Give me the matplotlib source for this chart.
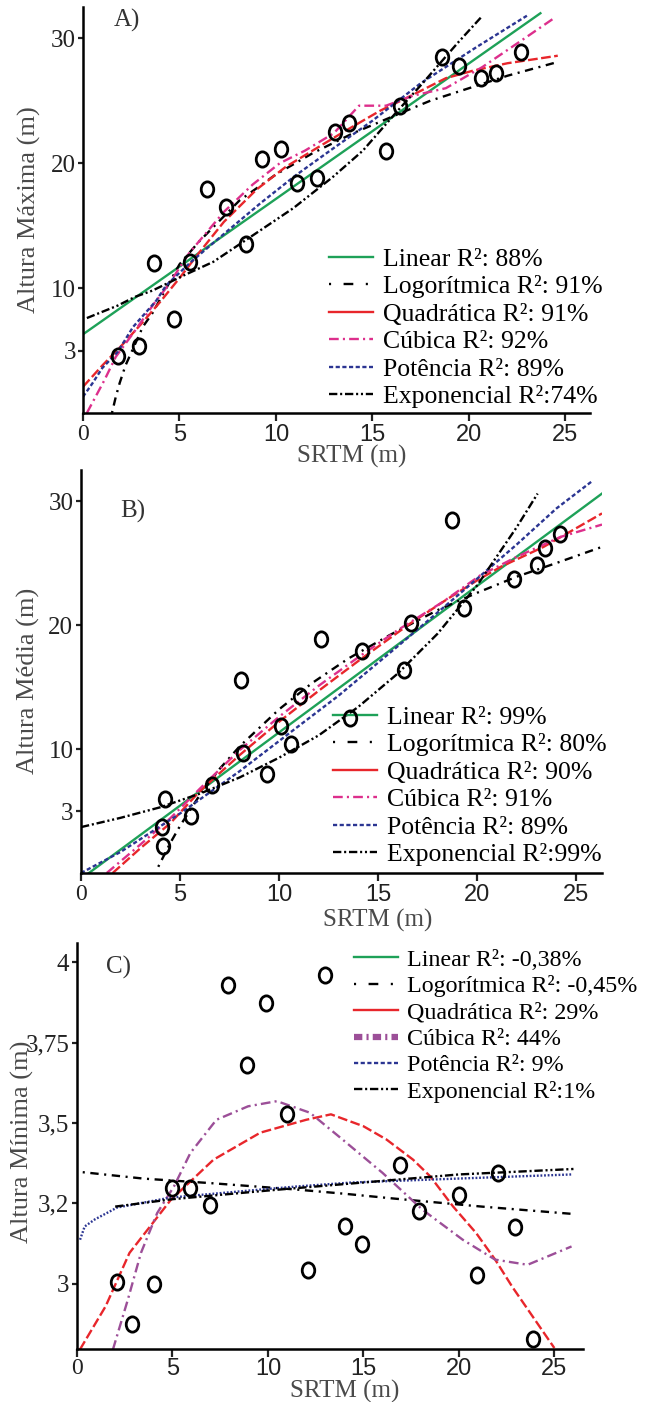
import matplotlib
matplotlib.use("Agg")
import matplotlib.pyplot as plt
from matplotlib.lines import Line2D
from matplotlib.path import Path
from matplotlib.transforms import Affine2D

plt.rcParams["font.family"] = ["Liberation Serif", "DejaVu Serif"]
plt.rcParams["lines.scale_dashes"] = False

# ---------------- data ----------------
# A) Altura Maxima
xa = [1.8, 2.9, 3.7, 4.7, 5.55, 6.45, 7.4, 8.45, 9.3, 10.25, 11.1, 12.15, 13.05, 13.8, 15.7, 16.4, 18.6, 19.5, 20.6, 21.4, 22.7]
ya = [4.6, 5.4, 12.0, 7.5, 12.1, 17.9, 16.5, 13.5, 20.3, 21.1, 18.4, 18.8, 22.5, 23.2, 21.0, 24.6, 28.5, 27.8, 26.8, 27.2, 28.9]
lin_a_x = [0, 23.7]
lin_a_y = [6.3, 32.0]
log_a_x = [1.5, 1.7, 1.9, 2.2, 3.1, 3.6, 5.0, 6.0, 8.1, 10.0, 11.9, 14.0, 16.6, 18.0, 20.0, 22.0, 24.6]
log_a_y = [0.0, 1.3, 2.4, 3.8, 6.9, 8.0, 11.9, 13.7, 17.0, 19.1, 20.8, 22.4, 24.1, 25.0, 26.0, 27.0, 28.1]
quad_a_x = [0, 1, 2, 3, 4, 5, 6, 7.3, 9, 10.5, 12, 13.5, 15.4, 17, 18.8, 20.2, 22, 24.6]
quad_a_y = [2.1, 3.8, 5.4, 7.1, 8.9, 10.8, 12.8, 15.3, 17.9, 19.7, 21.1, 22.5, 24.2, 25.4, 26.8, 27.4, 28.0, 28.6]
cub_a_x = [0.2, 1.1, 1.7, 2.7, 3.7, 4.4, 5.5, 7.3, 8.8, 10.2, 11.5, 13.0, 14.3, 15.7, 17.1, 18.8, 20.7, 22.7, 24.4]
cub_a_y = [0.0, 2.6, 4.5, 6.6, 8.8, 10.2, 12.8, 16.1, 18.3, 20.0, 21.0, 22.4, 24.6, 24.6, 25.4, 26.0, 27.7, 29.8, 31.6]
pow_a_x = [0, 0.5, 1.0, 1.8, 2.6, 3.8, 4.3, 5.6, 7.2, 9.2, 11.0, 12.8, 15.0, 17.5, 20.4, 23.0]
pow_a_y = [1.3, 2.4, 3.6, 4.9, 6.9, 9.0, 10.2, 12.1, 14.2, 16.8, 19.0, 21.0, 23.4, 26.4, 29.3, 31.8]
exp_a_x = [0.2, 1.8, 2.7, 3.6, 5.2, 6.75, 8.3, 10.9, 12.95, 14.5, 16.25, 17.6, 19.4, 20.7]
exp_a_y = [7.6, 8.6, 9.3, 9.8, 11.0, 12.1, 13.7, 16.4, 18.9, 21.0, 24.1, 26.4, 29.6, 31.8]
labels_a = ["Linear R²: 88%", "Logorítmica R²: 91%", "Quadrática R²: 91%",
            "Cúbica R²: 92%", "Potência R²: 89%", "Exponencial R²:74%"]

# B) Altura Media
xb = [4.25, 4.1, 4.15, 5.55, 6.6, 8.1, 8.2, 9.4, 10.1, 10.6, 11.05, 12.1, 13.6, 14.2, 16.3, 16.65, 18.75, 19.35, 21.85, 23.0, 23.4, 24.2]
yb = [6.0, 3.7, 2.2, 4.6, 7.1, 15.6, 9.7, 8.0, 11.85, 10.4, 14.3, 18.9, 12.5, 17.9, 16.4, 20.2, 28.5, 21.4, 23.7, 24.8, 26.2, 27.3]
lin_b_x = [0.4, 26.3]
lin_b_y = [0.0, 30.6]
log_b_x = [3.9, 4.5, 5.0, 6.0, 7.0, 8.0, 10.0, 11.65, 13.5, 15.6, 18.0, 20.0, 22.0, 24.0, 26.3]
log_b_y = [0.5, 2.4, 3.8, 6.3, 8.4, 10.2, 13.2, 15.3, 17.3, 19.2, 21.2, 22.6, 23.9, 25.0, 26.3]
quad_b_x = [1.6, 3, 4.5, 6, 8, 10, 12, 14, 16.6, 18.5, 20, 21.2, 23.35, 26.3]
quad_b_y = [0.0, 2.0, 4.0, 6.6, 9.5, 12.2, 14.7, 17.1, 20.1, 22.1, 23.6, 24.7, 26.3, 29.0]
cub_b_x = [1.3, 3, 4.5, 6, 8, 10, 12, 14, 16, 18.3, 20.15, 22, 24.2, 26.3]
cub_b_y = [0.0, 2.3, 4.4, 6.8, 9.9, 12.6, 15.1, 17.4, 19.6, 21.9, 24.0, 25.5, 27.1, 28.1]
pow_b_x = [0, 2, 5, 8, 10.7, 13, 16, 19.1, 22, 24, 25.8]
pow_b_y = [0.0, 1.7, 4.8, 8.2, 11.5, 14.3, 18.3, 22.5, 26.5, 29.4, 31.6]
exp_b_x = [0, 2, 4, 6, 8, 10, 12, 14, 16, 18, 20, 22, 23.05]
exp_b_y = [3.7, 4.45, 5.3, 6.4, 7.7, 9.3, 11.1, 13.4, 16.1, 19.3, 23.2, 27.9, 30.6]
labels_b = ["Linear R²: 99%", "Logorítmica R²: 80%", "Quadrática R²: 90%",
            "Cúbica R²: 91%", "Potência R²: 89%", "Exponencial R²:99%"]

# C) Altura Minima
xc = [2.1, 2.9, 4.05, 5.0, 5.9, 6.95, 7.9, 8.9, 9.9, 11.0, 12.1, 13.0, 14.05, 14.9, 16.9, 17.9, 20.0, 20.95, 22.05, 22.95, 23.9]
yc = [3.005, 2.875, 3.0, 3.297, 3.297, 3.246, 3.928, 3.679, 3.873, 3.528, 3.043, 3.962, 3.18, 3.124, 3.368, 3.227, 3.277, 3.028, 3.345, 3.177, 2.828]
log_c_x = [0.3, 3.5, 7.0, 11.5, 14.0, 16.6, 21.2, 26.0]
log_c_y = [3.347, 3.327, 3.313, 3.293, 3.28, 3.265, 3.24, 3.217]
quad_c_x = [0.15, 1.5, 2.75, 4.9, 7.15, 9.6, 12.0, 13.3, 15.0, 16.2, 17.6, 18.5, 19.7, 20.9, 21.9, 22.8, 25.0]
quad_c_y = [2.795, 2.93, 3.096, 3.26, 3.386, 3.47, 3.51, 3.527, 3.49, 3.449, 3.386, 3.334, 3.24, 3.158, 3.075, 2.99, 2.80]
cub_c_x = [1.88, 2.66, 3.35, 4.2, 5.08, 5.94, 7.3, 8.96, 10.47, 12.2, 13.9, 16.0, 18.1, 20.2, 21.9, 23.6, 25.9]
cub_c_y = [2.795, 2.95, 3.096, 3.22, 3.303, 3.407, 3.51, 3.552, 3.568, 3.532, 3.449, 3.345, 3.23, 3.137, 3.075, 3.059, 3.116]
pow_c_x = [0.16, 0.4, 0.93, 2.1, 4.9, 9.6, 11.6, 14.4, 18.5, 25.9]
pow_c_y = [3.137, 3.178, 3.2, 3.237, 3.268, 3.293, 3.303, 3.315, 3.324, 3.34]
exp_c_x = [2.0, 5.0, 10.0, 15.0, 20.0, 26.0]
exp_c_y = [3.24, 3.263, 3.29, 3.315, 3.34, 3.357]
labels_c = ["Linear R²: -0,38%", "Logorítmica R²: -0,45%", "Quadrática R²: 29%",
            "Cúbica R²: 44%", "Potência R²: 9%", "Exponencial R²:1%"]

xticks = [0, 5, 10, 15, 20, 25]
yticks_ab = [5, 10, 20, 30]
ylabels_ab = ["3", "10", "20", "30"]
yticks_c = [3, 3.25, 3.5, 3.75, 4]
ylabels_c = ["3", "3,2", "3,5", "3,75", "4"]

# ---------------- styles ----------------
GREEN = "#1ea158"
RED = "#e8262b"
PINK = "#dd2f8c"
PURPLE = "#9c4f98"
BLUE = "#2b3592"
LOG_LS = (0, (1.5, 4, 6, 4))
QUAD_LS = (0, (7, 2.5))
CUB_LS = (0, (7, 3, 1.5, 3))
POW_LS = (0, (3, 1.8))
DOT_LS = (0, (1.3, 1.3))
EXP_LS = (0, (6, 2, 1.5, 2, 6, 2, 1.5, 2, 1.5, 2))
LW = 1.7

ellipse = Path.unit_circle().transformed(Affine2D().scale(0.82, 1.0))

fig = plt.figure(figsize=(6.47, 14.02), dpi=100)


def style_axes(ax, xmax, ylim, yt, ytl, ylabel, label_xy, ylab_xy, xlab_xy, letter, ypad, xpad):
    ax.set_xlim(0, xmax)
    ax.set_ylim(*ylim)
    for s in ["top", "right"]:
        ax.spines[s].set_visible(False)
    for s in ["left", "bottom"]:
        ax.spines[s].set_linewidth(1.8)
    ax.set_xticks(xticks)
    ax.set_xticklabels([str(t) for t in xticks])
    ax.set_yticks(yt)
    ax.set_yticklabels(ytl)
    ax.tick_params(axis="both", width=1.6, direction="out", colors="#222222")
    ax.tick_params(axis="y", labelsize=18, length=3.5, pad=ypad)
    ax.tick_params(axis="x", labelsize=17, length=6, pad=xpad)
    for i, t in enumerate(ax.get_xticklabels()):
        if i == 0:
            t.set_fontfamily(["Liberation Serif"])
        else:
            t.set_fontfamily(["Liberation Sans"])
    ax.set_ylabel(ylabel, fontsize=19, color="#4a4a4a")
    ax.yaxis.set_label_coords(*ylab_xy)
    ax.yaxis.label.set_verticalalignment("center")
    ax.set_xlabel("SRTM (m)", fontsize=18, color="#4a4a4a")
    ax.xaxis.set_label_coords(*xlab_xy)
    ax.xaxis.label.set_verticalalignment("center")
    ax.text(label_xy[0], label_xy[1], letter, transform=ax.transAxes,
            fontsize=18, color="#333333", ha="center", va="center")


def make_handles(cub_color, cub_lw, cub_ls):
    return [
        Line2D([], [], color=GREEN, lw=LW),
        Line2D([], [], color="black", lw=LW, ls=(0, (1.5, 9, 7, 9))),
        Line2D([], [], color=RED, lw=LW),
        Line2D([], [], color=cub_color, lw=cub_lw, ls=cub_ls),
        Line2D([], [], color=BLUE, lw=LW, ls=POW_LS),
        Line2D([], [], color="black", lw=LW, ls=EXP_LS),
    ]


def add_legend(ax, handles, labels, x_px, top_px, size):
    ax.legend(handles, labels, loc="upper left",
              bbox_to_anchor=(x_px / 647, 1 - top_px / 1402),
              bbox_transform=fig.transFigure, frameon=False,
              borderpad=0, borderaxespad=0, handlelength=1.75 * 18 / size,
              handletextpad=0.4, labelspacing=0.18 * 18 / size,
              prop={"family": "Liberation Serif", "size": size})


def scatter(ax, x, y):
    ax.plot(x, y, ls="none", marker=ellipse, ms=11, mfc="none",
            mec="black", mew=2.0, zorder=6)


# ---------------- panel A ----------------
ax1 = fig.add_axes([83 / 647, 1 - 413 / 1402, 507 / 647, 406 / 1402])
ax1.plot(lin_a_x, lin_a_y, color=GREEN, lw=LW)
ax1.plot(log_a_x, log_a_y, color="black", lw=LW, ls=LOG_LS)
ax1.plot(quad_a_x, quad_a_y, color=RED, lw=LW, ls=QUAD_LS)
ax1.plot(cub_a_x, cub_a_y, color=PINK, lw=LW, ls=CUB_LS)
ax1.plot(pow_a_x, pow_a_y, color=BLUE, lw=LW, ls=POW_LS)
ax1.plot(exp_a_x, exp_a_y, color="black", lw=LW, ls=EXP_LS)
scatter(ax1, xa, ya)
style_axes(ax1, 26.27, (0, 32.5), yticks_ab, ylabels_ab, "Altura Máxima (m)",
           (0.087, 0.968), (-0.105, 0.50), (0.53, -0.108), "A)", 1.5, 2)
add_legend(ax1, make_handles(PINK, LW, CUB_LS), labels_a, 329, 248, 18.5)

# ---------------- panel B ----------------
ax2 = fig.add_axes([81 / 647, 1 - 873 / 1402, 521 / 647, 403 / 1402])
ax2.plot(lin_b_x, lin_b_y, color=GREEN, lw=LW)
ax2.plot(log_b_x, log_b_y, color="black", lw=LW, ls=LOG_LS)
ax2.plot(quad_b_x, quad_b_y, color=RED, lw=LW, ls=QUAD_LS)
ax2.plot(cub_b_x, cub_b_y, color=PINK, lw=LW, ls=CUB_LS)
ax2.plot(pow_b_x, pow_b_y, color=BLUE, lw=LW, ls=POW_LS)
ax2.plot(exp_b_x, exp_b_y, color="black", lw=LW, ls=EXP_LS)
scatter(ax2, xb, yb)
style_axes(ax2, 26.3, (0, 32.5), yticks_ab, ylabels_ab, "Altura Média (m)",
           (0.10, 0.896), (-0.10, 0.476), (0.57, -0.117), "B)", 2, 2)
add_legend(ax2, make_handles(PINK, LW, CUB_LS), labels_b, 333, 706, 18.5)

# ---------------- panel C ----------------
ax3 = fig.add_axes([77 / 647, 1 - 1349 / 1402, 506 / 647, 406 / 1402])
ax3.plot(log_c_x, log_c_y, color="black", lw=LW, ls=LOG_LS)
ax3.plot(quad_c_x, quad_c_y, color=RED, lw=LW, ls=QUAD_LS)
ax3.plot(cub_c_x, cub_c_y, color=PURPLE, lw=LW, ls=CUB_LS)
ax3.plot(pow_c_x, pow_c_y, color=BLUE, lw=LW, ls=DOT_LS)
ax3.plot(exp_c_x, exp_c_y, color="black", lw=LW, ls=EXP_LS)
scatter(ax3, xc, yc)
style_axes(ax3, 26.5, (2.797, 4.06), yticks_c, ylabels_c, "Altura Mínima (m)",
           (0.083, 0.941), (-0.107, 0.51), (0.53, -0.104), "C)", 2, 0.5)
add_legend(ax3, make_handles(PURPLE, 4.5, (0, (6, 3, 1.5, 3))), labels_c, 354, 949, 17.3)

fig.savefig("out.png", dpi=100)
